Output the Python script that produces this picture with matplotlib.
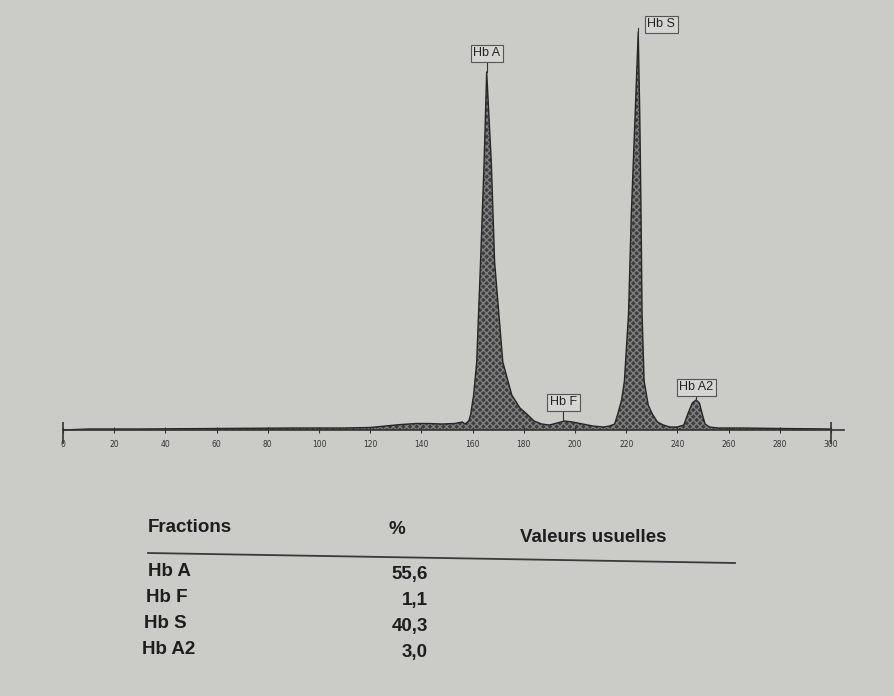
import matplotlib
matplotlib.use("Agg")
import matplotlib.pyplot as plt
from matplotlib.lines import Line2D

# electrophoresis trace (x = migration, y = height)
curve_x = [0, 10, 30, 60, 90, 110, 120, 126, 132, 138, 143, 148, 153, 156,
           157, 158.5, 159.2, 160.4, 161.6, 163.1, 164.5, 165.5, 167.3, 168.6,
           171.8, 175.3, 178.5, 181.6, 184, 187, 190, 193, 196, 199, 203, 207,
           211, 213.5, 215.5, 216.7, 218.2, 219.3, 220.9, 222.0, 223.5, 224.7,
           225.3, 225.8, 226.2, 227.0, 228.6, 230.2, 232.2, 234.5, 237, 240,
           242.5, 244.2, 245.8, 247.3, 248.6, 249.6, 250.8, 252.5, 256, 265,
           280, 300]
curve_y = [0, 1, 1, 1.5, 2, 2, 2.5, 4, 5.5, 6.5, 6.5, 6, 6.5, 8,
           6, 9, 15, 35, 68, 168, 268, 358, 268, 168,
           68, 35, 22, 15, 9, 6, 5, 7, 9, 8, 6, 4,
           3, 4, 6, 16, 30, 49, 116, 216, 316, 398,
           316, 216, 116, 49, 25, 16, 8, 5, 3, 3,
           5, 17, 27, 30, 27, 17, 6, 3, 2, 2,
           1.5, 1]

peak_names = ["Hb A", "Hb F", "Hb S", "Hb A2"]
peak_x = [165.5, 195.5, 224.7, 247.3]
peak_y = [358, 9, 398, 30]

ticks = list(range(0, 301, 20))

fractions = ["Hb A", "Hb F", "Hb S", "Hb A2"]
percents = ["55,6", "1,1", "40,3", "3,0"]

W, H = 894, 696
fig = plt.figure(figsize=(W / 100, H / 100), dpi=100)
fig.patch.set_facecolor("#cbcbc8")

# axes placed so that 0 -> px 63 and 300 -> px 831, baseline at px 430
x0_px, k = 63, 2.56
left_px, right_px = x0_px - 10 * k, x0_px + 310 * k
ax = fig.add_axes([left_px / W, (H - 490) / H, (right_px - left_px) / W, 470 / H])
ax.set_xlim(-10, 310)
ax.set_ylim(-60, 410)
ax.set_facecolor("none")

ax.fill_between(curve_x, 0, curve_y, facecolor="#3e3e3e", edgecolor="#808080",
                hatch="xxxxx", linewidth=0)
ax.plot(curve_x, curve_y, color="#262626", lw=1)

for sp in ["top", "right", "left"]:
    ax.spines[sp].set_visible(False)
ax.spines["bottom"].set_position(("data", 0))
ax.spines["bottom"].set_bounds(0, 305)
ax.spines["bottom"].set_color("#333333")
ax.spines["bottom"].set_linewidth(1.2)
ax.set_yticks([])
ax.set_xticks(ticks)
ax.tick_params(axis="x", direction="inout", length=5, width=0.8, colors="#333333",
               labelsize=5.5, pad=5)
ax.vlines([0, 300], -14, 8, color="#333333", lw=1.2)

# boxed peak labels with a short leader
box = dict(boxstyle="square,pad=0.2", fc="#d6d6d4", ec="#555555", lw=0.8)
offsets = [(0, 13), (0, 13), (9, 2), (0, 7)]
for name, px_, py_, (dx, dy) in zip(peak_names, peak_x, peak_y, offsets):
    ly = py_ + dy
    ax.plot([px_, px_], [py_, ly + 2], color="#333333", lw=0.8)
    ax.text(px_ + dx, ly, name, ha="center", va="bottom", fontsize=9,
            family="Liberation Sans", color="#222222", bbox=box)

# results table below the trace
tfont = dict(family="Liberation Sans", fontweight="bold", color="#1e1e1e", fontsize=13.5)

def fx(x):
    return x / W

def fy(y):
    return 1 - y / H

fig.text(fx(148), fy(527), "Fractions", ha="left", va="center", **tfont)
fig.text(fx(397), fy(530), "%", ha="center", va="center", **tfont)
fig.text(fx(520), fy(537), "Valeurs usuelles", ha="left", va="center", **tfont)
fig.add_artist(Line2D([fx(148), fx(735)], [fy(553), fy(563)], color="#3a3a3a", lw=1.3))

row_y = [571, 598, 624, 650]
for i, (name, pct) in enumerate(zip(fractions, percents)):
    fig.text(fx(148 - 2 * i), fy(row_y[i]), name, ha="left", va="center", **tfont)
    fig.text(fx(428), fy(row_y[i] + 3), pct, ha="right", va="center", **tfont)

fig.savefig("out.png", dpi=100, facecolor=fig.get_facecolor())
